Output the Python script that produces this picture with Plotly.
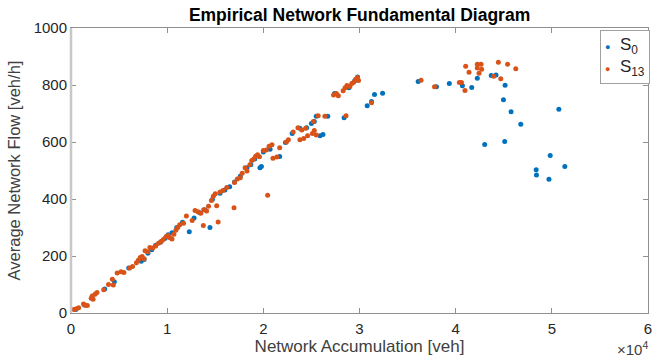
import plotly.graph_objects as go

# S0 series (blue)
s0_x = [500, 1400, 2200, 3500, 4500, 6000, 7300, 7600, 8000, 8400, 8800, 9300, 9800, 10100, 10500,
        11000, 11600, 12300, 12800, 13400, 13900, 14450, 14700, 15500, 16000, 16500, 17000, 17600,
        18300, 18700, 19100, 19650, 19800, 20000, 20700, 21700, 22300, 23000, 23800, 24500, 25000,
        25300, 25500, 25900, 26200, 26700, 27400, 28400, 28900, 29500, 29800,
        30800, 31250, 31560, 32400, 36100, 38000, 39340, 40700, 41670, 42250, 43700, 44200, 45140,
        44970, 45760, 46770, 43020, 45100, 50730, 49830, 48370, 48400, 51350, 49700]
s0_y = [12, 28, 52, 84, 110, 158, 182, 188, 210, 222, 238, 248, 262, 275, 282,
        300, 318, 285, 333, 352, 362, 300, 398, 420, 432, 443, 460, 480,
        510, 520, 540, 510, 514, 565, 575, 549, 598, 630, 648, 650, 665,
        672, 690, 622, 626, 690, 770, 685, 790, 815, 828,
        727, 742, 767, 771, 812, 794, 805, 797, 791, 824, 833, 835, 799,
        748, 706, 662, 591, 602, 715, 553, 503, 484, 514, 469]

# S13 series (orange)
s13_x = [300, 550, 800, 1300, 1500, 1700, 2100, 2200, 2300, 2500, 2700, 3400, 3900, 4300, 4400,
         4800, 5200, 5500, 6100, 6400, 6800, 7000, 7200, 7400, 7600, 7700, 8000, 8200, 8500, 8800,
         9100, 9400, 9600, 9900, 10100, 10300, 10500, 10700, 10900, 11100, 11300, 11700, 12000,
         12600, 12900, 13200, 13500, 13800, 14100, 13760, 14300, 14600, 14800, 15000, 15150, 15300,
         15500, 15800, 16200, 16950, 17000, 17300, 17600, 17800, 18100, 18300, 18600, 18800, 19000,
         19200, 19400, 19600, 20450, 20000, 20300, 20600, 20900, 21000, 21400, 21700, 22400, 22600,
         23100, 23600, 24000, 24400, 23800, 24200, 24600, 25100, 25300, 25500, 25200, 25700, 26400,
         27300, 27600, 27800, 28300, 28500, 28700, 29000, 29200, 29400, 29600, 29800, 29900, 28600,
         31250, 36400, 37800, 40380, 40600, 40970, 41040, 41390, 42250, 42640, 42250, 42700, 42430,
         44440, 45400, 46250, 43960, 44690]
s13_y = [12, 15, 18, 32, 27, 26, 52, 60, 48, 66, 72, 82, 100, 118, 98,
         140, 145, 142, 158, 163, 176, 185, 195, 198, 190, 218, 215, 230, 228, 235,
         245, 252, 258, 268, 272, 264, 260, 276, 290, 300, 310, 315, 340,
         325, 360, 355, 350, 362, 358, 307, 375, 395, 410, 418, 376, 319,
         425, 430, 440, 369, 458, 470, 475, 490, 510, 498, 520, 535, 540,
         550, 555, 548, 413, 570, 572, 585, 590, 543, 547, 580, 600, 608,
         635, 650, 642, 648, 608, 612, 622, 630, 640, 625, 672, 692, 690,
         765, 770, 762, 780, 790, 798, 795, 805, 810, 820, 826, 816, 692,
         738, 817, 794, 809, 809, 781, 866, 845, 873, 873, 860, 855, 841,
         880, 873, 857, 831, 822]

x_ticks = [0, 10000, 20000, 30000, 40000, 50000, 60000]
x_tick_labels = ["0", "1", "2", "3", "4", "5", "6"]
y_ticks = [0, 200, 400, 600, 800, 1000]
series_names = ["S<sub>0</sub>", "S<sub>13</sub>"]
series_colors = ["#0072BD", "#D95319"]

FONT = "Liberation Sans, Arial, sans-serif"
TXT = "#262626"
AX = "#909090"

fig = go.Figure()
fig.add_trace(go.Scatter(x=s0_x, y=s0_y, mode="markers", name=series_names[0], showlegend=False,
                         marker=dict(color=series_colors[0], size=5, line=dict(width=0))))
fig.add_trace(go.Scatter(x=s13_x, y=s13_y, mode="markers", name=series_names[1], showlegend=False,
                         marker=dict(color=series_colors[1], size=5, line=dict(width=0))))

fig.update_layout(
    width=664, height=360,
    margin=dict(l=71, r=16, t=28, b=47, autoexpand=False),
    plot_bgcolor="white", paper_bgcolor="white",
    font=dict(family=FONT, color=TXT, size=15),
    title=dict(text="<b>Empirical Network Fundamental Diagram</b>", x=0.5415, xanchor="center",
               y=0.958, yanchor="middle", font=dict(size=17.5, color="#000000")),
)
fig.update_xaxes(range=[0, 60000], tickvals=x_ticks, ticktext=x_tick_labels, automargin=False,
                 showgrid=False, zeroline=False, showline=True, linecolor=AX, linewidth=1,
                 mirror="ticks", ticks="inside", ticklen=5, tickcolor=AX,
                 tickfont=dict(size=15, color=TXT), ticklabelstandoff=2,
                 title=dict(text="Network Accumulation [veh]", font=dict(size=17, color="#404040"),
                            standoff=0))
fig.update_yaxes(range=[0, 1000], tickvals=y_ticks, automargin=False,
                 showgrid=False, zeroline=False, showline=True, linecolor=AX, linewidth=1,
                 mirror="ticks", ticks="inside", ticklen=5, tickcolor=AX,
                 tickfont=dict(size=15, color=TXT),
                 title=dict(text="Average Network Flow [veh/h]", font=dict(size=16.5, color="#404040"),
                            standoff=8))
fig.add_shape(type="line", xref="paper", yref="paper", x0=0, x1=0, y0=0, y1=1,
              line=dict(color="#c8c8c8", width=2.5))

# compact MATLAB-style legend
legend_text = "<br>".join(
    f'<span style="color:{c};font-size:9px">●</span>  {n}' for n, c in zip(series_names, series_colors)
)
fig.add_annotation(text=legend_text, xref="paper", yref="paper", x=1.004, y=0.993,
                   xanchor="right", yanchor="top", showarrow=False, align="left",
                   bgcolor="white", bordercolor="#a0a0a0", borderwidth=1, borderpad=4,
                   font=dict(size=17, color=TXT, family=FONT))

fig.add_annotation(text="×10<sup>4</sup>", xref="paper", yref="paper", x=1.003, y=-0.125,
                   xanchor="right", yanchor="middle", showarrow=False,
                   font=dict(size=15, color="#404040"))

fig.write_html("out.html")
